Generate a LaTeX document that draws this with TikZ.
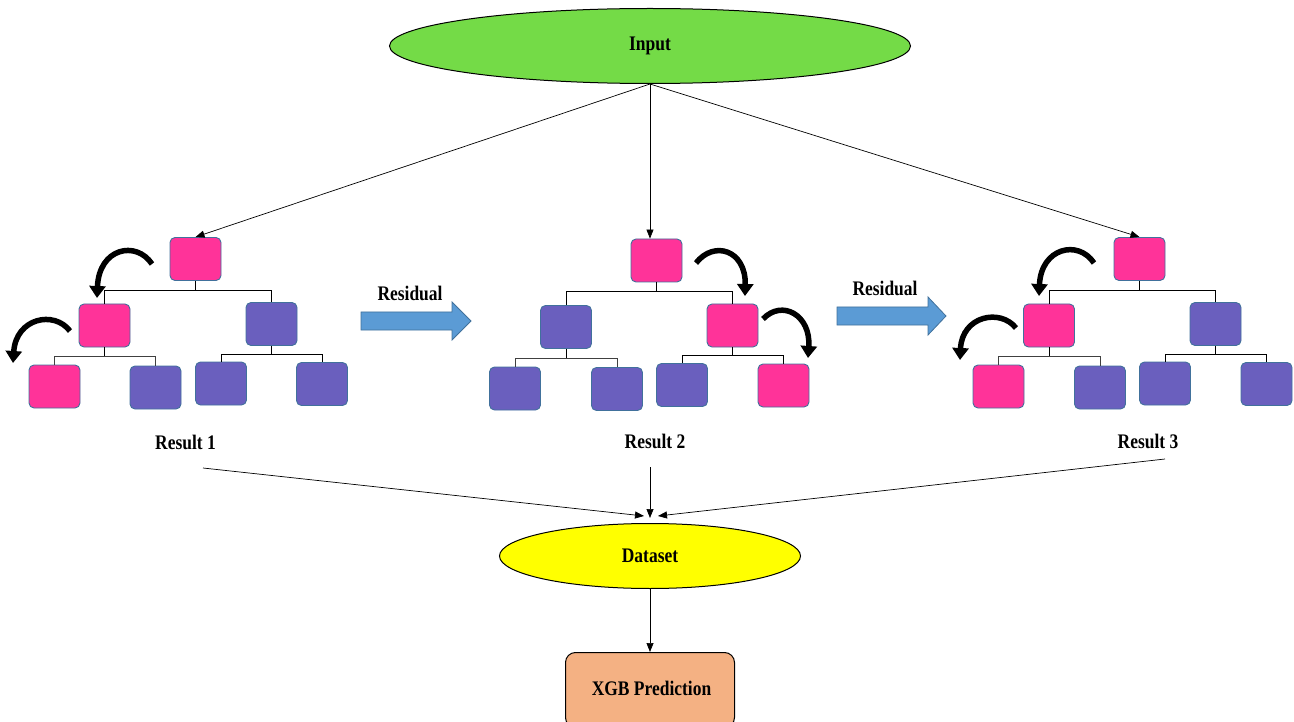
\documentclass[tikz,border=0pt]{standalone}
\usepackage{fontspec}
\setmainfont{Liberation Serif}
\usetikzlibrary{arrows.meta,calc,shapes.geometric}

\definecolor{inputgreen}{HTML}{74DB47}
\definecolor{dsyellow}{HTML}{FFFF00}
\definecolor{xgborange}{HTML}{F4B183}
\definecolor{splitpink}{HTML}{FF3399}
\definecolor{leafpurple}{HTML}{6A5FBE}
\definecolor{boxedge}{HTML}{41719C}
\definecolor{resblue}{HTML}{5B9BD5}

% bold caption text, slightly stretched upward
\newcommand{\tallword}[1]{\scalebox{0.97}[1.15]{#1}}

\tikzset{
  lbl/.style={font=\bfseries\fontsize{18}{21}\selectfont},
  tbox/.style={rounded corners=5pt, draw=boxedge, line width=0.9pt,
               minimum width=51pt, minimum height=43pt, inner sep=0pt},
  hot/.style={tbox, fill=splitpink},
  cold/.style={tbox, fill=leafpurple},
  link/.style={draw=black, line width=0.8pt},
  flow/.style={draw=black, line width=0.7pt, -{Triangle[length=9pt,width=7pt]}},
  swing/.style={draw=black, line width=5.5pt,
                -{Triangle[length=12pt,width=16pt]}},
  resarrow/.style={fill=resblue, draw=boxedge, line width=0.8pt},
}

\begin{document}
\begin{tikzpicture}[x=1pt, y={(0pt,-1pt)}]
\useasboundingbox (0,0) rectangle (1294,722);

% top and bottom nodes
\node[ellipse, draw, line width=1pt, fill=inputgreen, minimum width=521pt,
      minimum height=75pt, inner sep=0pt, lbl] (inp) at (650,46) {\tallword{Input}};
\node[ellipse, draw, line width=1pt, fill=dsyellow, minimum width=301pt,
      minimum height=65pt, inner sep=0pt, lbl] (ds) at (650,556) {\tallword{Dataset}};
\node[draw, line width=1pt, fill=xgborange, rounded corners=10pt,
      minimum width=169pt, minimum height=75pt, inner sep=0pt, lbl,
      anchor=north] (xgb) at (650,652) {};
\node[lbl] (xgbtext) at (651.5,688) {\tallword{XGB Prediction}};

% tree 1
\node[hot]  (a0) at (195.5,259) {};
\node[hot]  (a1) at (104.5,325.5) {};
\node[cold] (a2) at (271.5,324) {};
\node[hot]  (a3) at (54.5,386.5) {};
\node[cold] (a4) at (155.5,387.5) {};
\node[cold] (a5) at (221,383.5) {};
\node[cold] (a6) at (322,384) {};

% tree 2
\node[hot]  (b0) at (656.5,260.5) {};
\node[cold] (b1) at (566,327) {};
\node[hot]  (b2) at (732.5,325.5) {};
\node[cold] (b3) at (515,388.5) {};
\node[cold] (b4) at (617,389) {};
\node[cold] (b5) at (682,385) {};
\node[hot]  (b6) at (783.5,385.5) {};

% tree 3
\node[hot]  (c0) at (1139.5,259) {};
\node[hot]  (c1) at (1049,325.5) {};
\node[cold] (c2) at (1215.5,324) {};
\node[hot]  (c3) at (998.5,386.5) {};
\node[cold] (c4) at (1100,387.5) {};
\node[cold] (c5) at (1165,383.5) {};
\node[cold] (c6) at (1266.5,384) {};

% branch lines of the three trees
\foreach \t in {a,b,c}{
  \draw[link] (\t0.south) -- ++(0,9) coordinate (\t0bar);
  \draw[link] (\t1.north) |- (\t0bar) -| (\t2.north);
  \draw[link] (\t1.south) -- ++(0,9) coordinate (\t1bar);
  \draw[link, draw=black!75] (\t3.north) |- (\t1bar) -| (\t4.north);
  \draw[link] (\t2.south) -- ++(0,8) coordinate (\t2bar);
  \draw[link] (\t5.north) |- (\t2bar) -| (\t6.north);
}

% curved arrows following the split path
\draw[swing] (152,264) .. controls (136,240) and (99,248) .. (97,298);
\draw[swing] (70,331) .. controls (54,310) and (16,318) .. (13,363);
\draw[swing] (696,263) .. controls (714,240) and (746,250) .. (745,296);
\draw[swing] (763,319) .. controls (782,299) and (811,315) .. (808,358);
\draw[swing] (1094,263) .. controls (1078,239) and (1041,248) .. (1039,296);
\draw[swing] (1016,328) .. controls (1000,308) and (962,316) .. (960,360);

% input to the three trees
\draw[flow] (inp.south) -- (a0.north);
\draw[flow] (inp.south) -- (inp.south |- b0.north);
\draw[flow] (inp.south) -- (c0.north);

% residual arrows
\draw[resarrow] (361,312) -- (452,312) -- (452,302) -- (471,321)
  -- (452,340) -- (452,330) -- (361,330) -- cycle;
\node[lbl] (res1) at (410,293) {\tallword{Residual}};
\draw[resarrow] (837,307) -- (928,307) -- (928,297) -- (946,316)
  -- (928,335) -- (928,325) -- (837,325) -- cycle;
\node[lbl] (res2) at (885,288) {\tallword{Residual}};

% results
\node[lbl] (r1) at (185.5,442) {\tallword{Result 1}};
\node[lbl] (r2) at (655,441) {\tallword{Result 2}};
\node[lbl] (r3) at (1148,441) {\tallword{Result 3}};
\coordinate (r1end) at (203,468);
\coordinate (r2end) at (650,467);
\coordinate (r3end) at (1165,459);

\draw[flow] (r1end) -- ([xshift=-6pt,yshift=7pt]ds.north);
\draw[flow] (r2end) -- ([yshift=5pt]ds.north);
\draw[flow] (r3end) -- ([xshift=8pt,yshift=7pt]ds.north);

\draw[flow] (ds.south) -- (xgb.north);
\end{tikzpicture}
\end{document}
